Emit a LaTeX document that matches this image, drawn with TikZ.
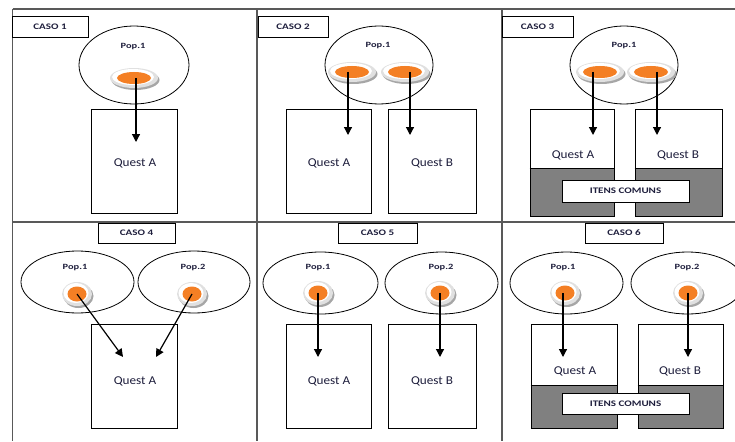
\documentclass[tikz,border=0pt]{standalone}
\usepackage{fontspec}
\setmainfont{Carlito}
\newfontfamily\widebf{Carlito}[FakeStretch=1.3]
\newfontfamily\widerm{Carlito}[FakeStretch=1.1]
\usetikzlibrary{shapes.geometric,arrows.meta}
\definecolor{dish}{HTML}{F47F24}
\definecolor{txt}{HTML}{1E1E3C}
\definecolor{greyfill}{HTML}{808080}
\tikzset{
  gridline/.style={draw=black!65, line width=1.3pt},
  casebox/.style={draw, line width=0.8pt, rectangle, inner sep=0pt, text=txt,
    font=\widebf\bfseries\fontsize{8.5}{9}\selectfont},
  popell/.style={draw, ellipse, line width=0.8pt, inner sep=0pt},
  poptxt/.style={text=txt, font=\widebf\bfseries\fontsize{8}{9}\selectfont, inner sep=0pt},
  qbox/.style={draw, rectangle, line width=0.8pt, inner sep=0pt},
  qtxt/.style={text=txt, font=\widerm\fontsize{12}{13}\selectfont, inner sep=0pt},
  itbox/.style={draw, fill=white, rectangle, line width=0.8pt, inner sep=0pt, text=txt,
    font=\widebf\bfseries\fontsize{8.5}{9}\selectfont},
  arr/.style={line width=1.2pt, -{Triangle[width=8pt,length=8pt]}},
}
% big plate dish
\newcommand{\bigdish}[2]{%
  \fill[black!35] ([xshift=1.5pt,yshift=-2pt]#2) ellipse [x radius=24pt, y radius=10pt];
  \fill[black!12] (#2) ellipse [x radius=24pt, y radius=10pt];
  \fill[white] ([xshift=-1pt,yshift=1pt]#2) ellipse [x radius=21pt, y radius=8pt];
  \node[ellipse, fill=dish, minimum width=34pt, minimum height=12pt, inner sep=0pt] (#1) at (#2) {};
}
% small round dish
\newcommand{\smalldish}[2]{%
  \fill[black!35] ([xshift=1.5pt,yshift=-2pt]#2) ellipse [x radius=15pt, y radius=12pt];
  \fill[black!12] (#2) ellipse [x radius=15pt, y radius=12pt];
  \fill[white] ([xshift=-1pt,yshift=1pt]#2) ellipse [x radius=12.5pt, y radius=10pt];
  \node[ellipse, fill=dish, minimum width=19pt, minimum height=15pt, inner sep=0pt] (#1) at (#2) {};
}
\begin{document}
\begin{tikzpicture}[x=1pt,y=-1pt]
\useasboundingbox (0,0) rectangle (735,441);

% grid
\coordinate (g1) at (12.5,9);
\coordinate (g2) at (735,9);
\coordinate (g3) at (12.5,222);
\coordinate (g4) at (735,222);
\coordinate (g5) at (12.5,441);
\coordinate (g6) at (257,9);
\coordinate (g7) at (257,441);
\coordinate (g8) at (502,9);
\coordinate (g9) at (502,441);
\draw[gridline] (g1) -- (g2);
\draw[gridline] (g3) -- (g4);
\draw[gridline] (g1) -- (g5);
\draw[gridline] (g6) -- (g7);
\draw[gridline] (g8) -- (g9);

% ---------- CASO 1 ----------
\node[casebox, minimum width=76pt, minimum height=21pt] (c1) at (50,26.5) {CASO 1};
\node[popell, minimum width=110pt, minimum height=78pt] (e1) at (134,65) {};
\node[poptxt] (p1) at (133,47) {Pop.1};
\node[qbox, minimum width=86pt, minimum height=104pt] (q1a) at (134,161) {};
\node[qtxt] (t1a) at (135,163) {Quest A};
\bigdish{d1}{134,78}
\coordinate (a1) at (136,142);
\draw[arr] (a1 |- d1.center) -- (a1);

% ---------- CASO 2 ----------
\node[casebox, minimum width=70pt, minimum height=21pt] (c2) at (293,26.5) {CASO 2};
\node[popell, minimum width=108pt, minimum height=78pt] (e2) at (379,65) {};
\node[poptxt] (p2) at (378,46) {Pop.1};
\node[qbox, minimum width=85pt, minimum height=104pt] (q2a) at (328.5,161) {};
\node[qbox, minimum width=88pt, minimum height=104pt] (q2b) at (432,161) {};
\node[qtxt] (t2a) at (329,163) {Quest A};
\node[qtxt] (t2b) at (432,163) {Quest B};
\bigdish{d2a}{352,72}
\bigdish{d2b}{405,72}
\coordinate (a2a) at (348,135);
\coordinate (a2b) at (410,135);
\draw[arr] (a2a |- d2a.center) -- (a2a);
\draw[arr] (a2b |- d2b.center) -- (a2b);

% ---------- CASO 3 ----------
\node[casebox, minimum width=71pt, minimum height=21pt] (c3) at (537.5,26.5) {CASO 3};
\node[popell, minimum width=108pt, minimum height=78pt] (e3) at (624,65) {};
\node[poptxt] (p3) at (624,46) {Pop.1};
\fill[greyfill] (530,168) rectangle (614,216);
\fill[greyfill] (635,168) rectangle (722,216);
\node[qbox, minimum width=84pt, minimum height=107pt] (q3a) at (572,162.5) {};
\node[qbox, minimum width=87pt, minimum height=107pt] (q3b) at (678.5,162.5) {};
\draw[line width=0.8pt] (q3a.west |- 0,168) -- (q3a.east |- 0,168);
\draw[line width=0.8pt] (q3b.west |- 0,168) -- (q3b.east |- 0,168);
\node[qtxt] (t3a) at (573,155) {Quest A};
\node[qtxt] (t3b) at (678,155) {Quest B};
\node[itbox, minimum width=127pt, minimum height=22pt] (i3) at (625.5,191) {ITENS COMUNS};
\bigdish{d3a}{600,72}
\bigdish{d3b}{651,72}
\coordinate (a3a) at (593,135);
\coordinate (a3b) at (657,135);
\draw[arr] (a3a |- d3a.center) -- (a3a);
\draw[arr] (a3b |- d3b.center) -- (a3b);

% ---------- CASO 4 ----------
\node[casebox, minimum width=77pt, minimum height=20pt] (c4) at (136.5,233) {CASO 4};
\node[popell, minimum width=113pt, minimum height=62pt] (e4a) at (77.5,282) {};
\node[popell, minimum width=112pt, minimum height=62pt] (e4b) at (194,282) {};
\node[poptxt] (p4a) at (75,268) {Pop.1};
\node[poptxt] (p4b) at (193,268) {Pop.2};
\node[qbox, minimum width=86pt, minimum height=104pt] (q4a) at (134,376) {};
\node[qtxt] (t4a) at (135,381) {Quest A};
\smalldish{d4a}{77,294}
\smalldish{d4b}{192,294}
\coordinate (a4a) at (123,357);
\coordinate (a4b) at (156,357);
\draw[arr] (d4a.center) -- (a4a);
\draw[arr] (d4b.center) -- (a4b);

% ---------- CASO 5 ----------
\node[casebox, minimum width=79pt, minimum height=20pt] (c5) at (377.5,233) {CASO 5};
\node[popell, minimum width=115pt, minimum height=62pt] (e5a) at (320.5,283) {};
\node[popell, minimum width=113pt, minimum height=62pt] (e5b) at (441.5,283) {};
\node[poptxt] (p5a) at (318,268) {Pop.1};
\node[poptxt] (p5b) at (441,268) {Pop.2};
\node[qbox, minimum width=85pt, minimum height=104pt] (q5a) at (328.5,376) {};
\node[qbox, minimum width=88pt, minimum height=104pt] (q5b) at (432,376) {};
\node[qtxt] (t5a) at (329,381) {Quest A};
\node[qtxt] (t5b) at (432,381) {Quest B};
\smalldish{d5a}{318,293}
\smalldish{d5b}{440,293}
\coordinate (a5a) at (318,357);
\coordinate (a5b) at (440,357);
\draw[arr] (d5a.center) -- (a5a);
\draw[arr] (d5b.center) -- (a5b);

% ---------- CASO 6 ----------
\node[casebox, minimum width=78pt, minimum height=20pt] (c6) at (624,233) {CASO 6};
\node[popell, minimum width=113pt, minimum height=62pt] (e6a) at (566.5,283) {};
\node[popell, minimum width=113pt, minimum height=62pt] (e6b) at (687.5,283) {};
\node[poptxt] (p6a) at (563,268) {Pop.1};
\node[poptxt] (p6b) at (687,268) {Pop.2};
\fill[greyfill] (531,385) rectangle (617,428);
\fill[greyfill] (638,385) rectangle (723,428);
\node[qbox, minimum width=86pt, minimum height=104pt] (q6a) at (574,376) {};
\node[qbox, minimum width=85pt, minimum height=104pt] (q6b) at (680.5,376) {};
\draw[line width=0.8pt] (q6a.west |- 0,385) -- (q6a.east |- 0,385);
\draw[line width=0.8pt] (q6b.west |- 0,385) -- (q6b.east |- 0,385);
\node[qtxt] (t6a) at (575,371) {Quest A};
\node[qtxt] (t6b) at (680,371) {Quest B};
\node[itbox, minimum width=127pt, minimum height=21pt] (i6) at (625.5,403.5) {ITENS COMUNS};
\smalldish{d6a}{565,293}
\smalldish{d6b}{688,293}
\coordinate (a6a) at (563,357);
\coordinate (a6b) at (688,357);
\draw[arr] (a6a |- d6a.center) -- (a6a);
\draw[arr] (a6b |- d6b.center) -- (a6b);
\end{tikzpicture}
\end{document}
